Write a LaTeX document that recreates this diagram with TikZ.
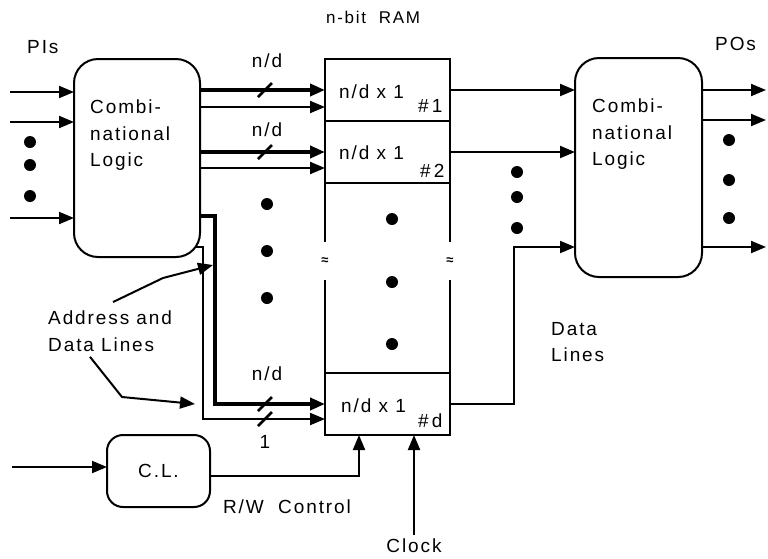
\documentclass[tikz,border=0pt]{standalone}
\usepackage{fontspec}
\setmainfont{Liberation Sans}[LetterSpace=10]
\usepackage{tikz}
\usetikzlibrary{arrows.meta, positioning, calc}

\begin{document}
\begin{tikzpicture}[
    x=1pt, y=-1pt,
    font=\fontsize{19}{26.5}\selectfont,
    logic/.style={draw, line width=2pt, rounded corners=24pt, outer sep=0pt,
                  minimum width=126pt, minimum height=198pt},
    cell/.style={draw, line width=2pt, outer sep=0pt, inner sep=0pt,
                 minimum width=125pt, minimum height=62pt},
    wire/.style={line width=2pt, -{Triangle[length=15pt, width=12pt]}},
    bus/.style={line width=3.8pt, -{Triangle[length=15pt, width=12pt]}},
    thinline/.style={line width=2pt},
    tick/.style={line width=2.6pt},
    lbl/.style={inner sep=0pt, anchor=base west}
]
    \useasboundingbox (0,0) rectangle (768,558);

    % combinational logic blocks
    \node[logic] (lcl) at (137,158) {};
    \node[lbl, anchor=north west, align=left] (lcltxt)
        at ([xshift=16pt, yshift=-41pt]lcl.north west) {Combi-\\national\\Logic};
    \node[logic, minimum width=127pt, minimum height=219pt] (rcl) at (638.5,167.5) {};
    \node[lbl, anchor=north west, align=left] (rcltxt)
        at ([xshift=17pt, yshift=-41pt]rcl.north west) {Combi-\\national\\Logic};
    \node[logic, rounded corners=16pt, minimum width=103pt, minimum height=72pt]
        (cl) at (158.5,471) {C.L.};

    % RAM cells
    \node[cell] (c1) at (387.5,90) {};
    \node[cell, below=0pt of c1] (c2) {};
    \node[cell] (cd) at (387.5,404) {};
    \foreach \side in {west,east} {
        \draw[thinline] (c2.south \side) -- ++(0,59);
        \draw[thinline] (cd.north \side) -- ++(0,-93);
    }
    \node[font=\fontsize{13}{13}\selectfont\bfseries] (brkl) at (325,261) {≈};
    \node[font=\fontsize{13}{13}\selectfont\bfseries] (brkr) at (450,261) {≈};

    \node[lbl] (c1txt) at ([xshift=14pt, yshift=-8pt]c1.west) {n/d x 1};
    \node[lbl] (c1num) at ([xshift=93pt, yshift=-22pt]c1.west) {\#\,1};
    \node[lbl] (c2txt) at ([xshift=14pt, yshift=-7.5pt]c2.west) {n/d x 1};
    \node[lbl] (c2num) at ([xshift=95pt, yshift=-25.5pt]c2.west) {\#\,2};
    \node[lbl] (cdtxt) at ([xshift=16pt, yshift=-8pt]cd.west) {n/d x 1};
    \node[lbl] (cdnum) at ([xshift=93pt, yshift=-23pt]cd.west) {\#\,d};

    % labels
    \node[lbl, font=\fontsize{17}{17}\selectfont] (ramlbl) at (326,23) {n-bit\ \ RAM};
    \node[lbl] (pis) at (27,53) {PIs};
    \node[lbl] (pos) at (715,50) {POs};
    \node[anchor=base] (nd1) at (267,67) {n/d};
    \node[anchor=base] (nd2) at (267,136) {n/d};
    \node[anchor=base] (nd3) at (267,380) {n/d};
    \node[anchor=base] (one) at (265,448) {1};
    \node[lbl, anchor=north west, align=left] (addr) at (48,311) {Address and\\Data Lines};
    \node[lbl, anchor=north west, align=left] (dl) at (551,322) {Data\\Lines};
    \node[anchor=base] (rw) at (287,513) {R/W\ \ Control};
    \node[anchor=base] (clk) at (414,552) {Clock};

    % primary inputs
    \foreach \yy [count=\i] in {92,122,218} {
        \coordinate (pi\i) at (10,\yy);
        \draw[wire] (pi\i) -- (pi\i -| lcl.west);
    }
    \foreach \yy in {142,165,196} \fill (30,\yy) circle (6pt);

    % address and data lines into the RAM
    \coordinate (c1in) at ([yshift=-17pt]c1.west);
    \coordinate (c2in) at ([yshift=-16pt]c2.west);
    \coordinate (cdin) at ([yshift=-15pt]cd.west);
    \draw[bus] (lcl.east |- c1.west) -- (c1.west);
    \draw[wire] (lcl.east |- c1in) -- (c1in);
    \draw[bus] (lcl.east |- c2.west) -- (c2.west);
    \draw[wire] (lcl.east |- c2in) -- (c2in);
    \draw[bus] ([yshift=-58pt]lcl.east) -- ++(15,0) |- (cd.west);
    \draw[wire] ([xshift=-4pt, yshift=10pt]lcl.south east) -- ++(7,0) |- (cdin);
    \foreach \yy in {90,152,404,419} \draw[tick] (258,{\yy+7}) -- (272,{\yy-7});
    \foreach \yy in {204,251,298} \fill (267,\yy) circle (6pt);
    \foreach \yy in {219,282,344} \fill (392,\yy) circle (6pt);

    \draw[wire] ([xshift=3pt, yshift=9pt]addr.north) -- (163,278) -- (213,265);
    \draw[wire] ([xshift=42pt, yshift=-5pt]addr.south west) -- (122,397) -- (195,404);

    % control
    \coordinate (clin) at (12,467);
    \draw[wire] (clin) -- (clin -| cl.west);
    \draw[wire] ([yshift=-5pt]cl.east) -| ([xshift=-28.5pt]cd.south);
    \draw[wire] (clk.north) -- (clk.north |- cd.south);

    % data lines out
    \draw[wire] (c1.east) -- (c1.east -| rcl.west);
    \draw[wire] (c2.east) -- (c2.east -| rcl.west);
    \draw[wire] (cd.east) -- ++(64,0) |- ([yshift=-79.5pt]rcl.west);
    \foreach \yy in {172,197,228} \fill (517,\yy) circle (6pt);

    % primary outputs
    \foreach \yy [count=\i] in {90,120,247} {
        \coordinate (po\i) at (766,\yy);
        \draw[wire] (po\i -| rcl.east) -- (po\i);
    }
    \foreach \yy in {140,180,218} \fill (729,\yy) circle (6pt);
\end{tikzpicture}
\end{document}
